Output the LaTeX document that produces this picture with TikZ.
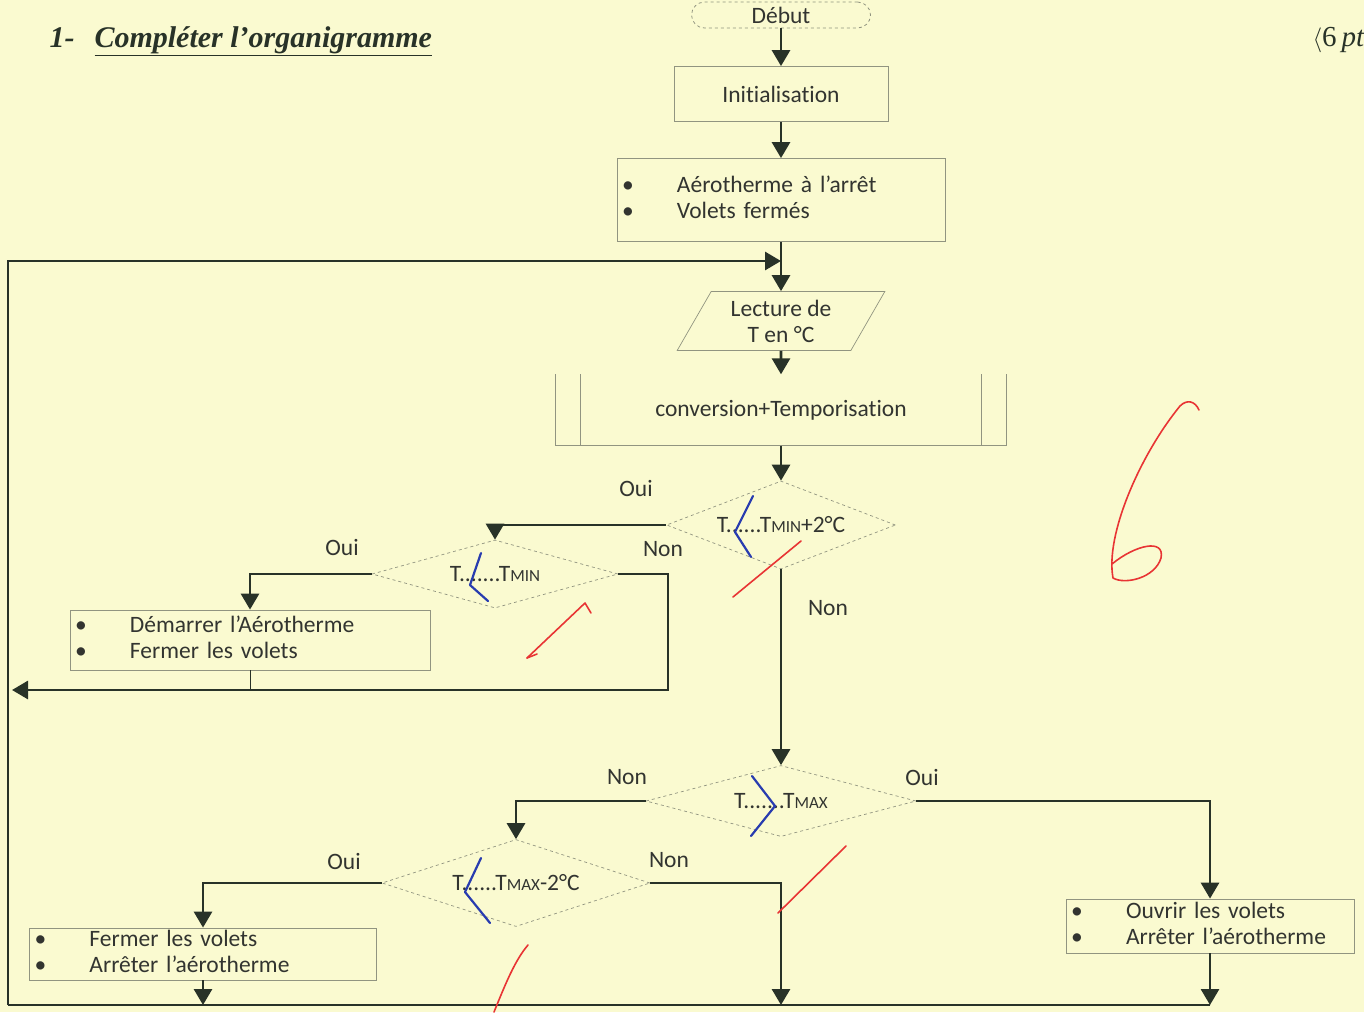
\documentclass[tikz,border=0pt]{standalone}
\usepackage{fontspec}
\setmainfont{Carlito}[Ligatures={NoCommon,NoContextual}, Contextuals=NoAlternate]
\newfontfamily\titlefont{Liberation Serif}
\usetikzlibrary{arrows.meta,shapes.geometric}

\definecolor{papier}{RGB}{250,250,208}
\definecolor{encre}{RGB}{50,52,48}
\definecolor{noirvert}{RGB}{40,50,40}
\definecolor{bordure}{RGB}{145,148,128}
\definecolor{stylobleu}{RGB}{40,60,175}
\definecolor{stylorouge}{RGB}{232,52,52}

\newcommand{\petit}[1]{{\fontsize{17}{20}\selectfont #1}}
\newcommand{\puces}[2]{\begin{tabular}{@{}p{55pt}@{}l@{}}\textbullet & #1\\ \textbullet & #2\end{tabular}}

\begin{document}
\begin{tikzpicture}[x=1pt, y=-1pt,
    every node/.style={text=encre, font=\fontsize{23.5}{26}\selectfont},
    bloc/.style={rectangle, draw=bordure, line width=0.8pt, inner sep=0pt},
    liste/.style={bloc, inner xsep=5pt, align=left},
    test/.style={diamond, draw=bordure, dashed, line width=0.7pt, inner sep=0pt, aspect=3},
    ligne/.style={draw=noirvert, line width=2.9pt},
    fleche/.style={ligne, -{Triangle[width=18pt,length=16pt]}},
    stylo/.style={line width=2.2pt, line cap=round, line join=round},
  ]

        % Background of the sheet
        \fill[papier] (0,0) rectangle (1364,1012);
        \useasboundingbox (0,0) rectangle (1364,1012);

        % Title and mark
        \node[anchor=west, text=noirvert, font=\titlefont\bfseries\itshape\fontsize{30}{33}\selectfont] (titre) at (46,41) {1-\hspace{20pt}\underline{Compléter l’organigramme}};
        \node[anchor=west, text=noirvert, font=\titlefont\fontsize{29}{32}\selectfont] (bareme) at (1309,40) {$\langle$6\,\textit{pt}};

        % Flowchart blocks
        \node[bloc, rounded corners=13pt, dashed, minimum width=179pt, minimum height=26pt] (debut) at (781,15) {Début};
        \node[bloc, minimum width=214pt, minimum height=55pt] (init) at (781,94) {Initialisation};
        \node[liste, text width=318pt, minimum height=83pt] (etat0) at (781,200) {\puces{Aérotherme à l’arrêt}{Volets fermés}};
        \node[trapezium, trapezium left angle=60, trapezium right angle=120, draw=bordure, line width=0.7pt,
              inner sep=0pt, minimum width=208pt, minimum height=53pt, align=center] (lecture) at (781,321) {Lecture de\\T en °C};
        \node[minimum width=451pt, minimum height=71pt, inner sep=0pt] (conv) at (781,410) {conversion+Temporisation};

        % Decisions
        \node[test, minimum width=229pt, minimum height=88pt] (d1) at (781,525) {T......T\petit{MIN}+2°C};
        \node[test, minimum width=246pt, minimum height=68pt] (d2) at (495,574) {T.......T\petit{MIN}};
        \node[test, minimum width=270pt, minimum height=71pt] (d3) at (781,801) {T.......T\petit{MAX}};
        \node[test, minimum width=268pt, minimum height=87pt] (d4) at (516,883) {T......T\petit{MAX}-2°C};

        % Actions
        \node[liste, text width=350pt, minimum height=60pt] (act3) at (250,640) {\puces{Démarrer l’Aérotherme}{Fermer les volets}};
        \node[liste, text width=337pt, minimum height=52pt] (act4) at (203,954) {\puces{Fermer les volets}{Arrêter l’aérotherme}};
        \node[liste, text width=278pt, minimum height=54pt] (act5) at (1210,926) {\puces{Ouvrir les volets}{Arrêter l’aérotherme}};

        % Sides of the subroutine block
        \draw[bordure, line width=0.8pt] (conv.north west) -- (conv.south west) -- (conv.south east) -- (conv.north east);
        \draw[bordure, line width=0.8pt] ([xshift=25pt]conv.north west) -- ([xshift=25pt]conv.south west);
        \draw[bordure, line width=0.8pt] ([xshift=-25pt]conv.north east) -- ([xshift=-25pt]conv.south east);

        % Corners of the loops
        \coordinate (coinBG) at (8,1005);
        \coordinate (coinBD) at (1210,1005);
        \coordinate (entree) at (781,261);
        \coordinate (retourD2) at (668,690);
        \coordinate (finD2) at (12,690);
        \coordinate (chuteD4) at (781,1005);

        % Main column
        \draw[fleche] (debut) -- (init);
        \draw[fleche] (init) -- (etat0);
        \draw[fleche] (etat0) -- (lecture);
        \draw[fleche] (lecture) -- (conv);
        \draw[fleche] (conv) -- (d1);
        \draw[fleche] (d1.south) -- (d3.north);

        % Branches
        \draw[fleche] (d1.west) -| (d2.north);
        \draw[fleche] (d2.west) -| (act3.north);
        \draw[fleche] (d2.east) -| (retourD2) -- (finD2);
        \draw[ligne, line width=0.8pt] (act3.south) -- (act3.south |- retourD2);
        \draw[fleche] (d3.west) -| (d4.north);
        \draw[fleche] (d3.east) -| (act5.north);
        \draw[fleche] (d4.west) -| (act4.north);
        \draw[fleche] (d4.east) -| (chuteD4);
        \draw[fleche] (act4.south) -- (act4.south |- coinBG);
        \draw[fleche] (act5.south) -- (act5.south |- coinBG);

        % Back to the reading
        \draw[ligne] (coinBD) -- (coinBG);
        \draw[fleche] (coinBG) |- (entree);

        % Labels of the branches
        \node (oui1) at (636,488) {Oui};
        \node (non1) at (828,608) {Non};
        \node (oui2) at (342,547) {Oui};
        \node (non2) at (663,549) {Non};
        \node (non3) at (627,777) {Non};
        \node (oui3) at (922,777) {Oui};
        \node (oui4) at (344,861) {Oui};
        \node (non4) at (669,860) {Non};

        % Answers in blue
        \draw[stylo, stylobleu] (753,496) -- (735,532) -- (751,557);
        \draw[stylo, stylobleu] (481,553) -- (470,585) -- (488,601);
        \draw[stylo, stylobleu] (752,776) -- (775,806) -- (751,836);
        \draw[stylo, stylobleu] (481,858) -- (465,892) -- (490,923);

        % Marks in red
        \draw[stylo, stylorouge, line width=1.6pt] (733,597) -- (801,541);
        \draw[stylo, stylorouge, line width=1.6pt] (527,658) -- (537,654);
        \draw[stylo, stylorouge, line width=1.6pt] (527,658) -- (585,603) -- (591,613);
        \draw[stylo, stylorouge, line width=1.6pt] (778,913) -- (846,846);
        \draw[stylo, stylorouge, line width=1.6pt] (494,1012) .. controls (505,985) and (515,960) .. (528,945);
        \draw[stylo, stylorouge, line width=1.6pt] (1199,410) .. controls (1195,401) and (1187,399) .. (1180,406)
              .. controls (1140,455) and (1105,535) .. (1113,578)
              .. controls (1125,585) and (1155,578) .. (1161,558)
              .. controls (1165,538) and (1135,545) .. (1112,564);

\end{tikzpicture}
\end{document}
